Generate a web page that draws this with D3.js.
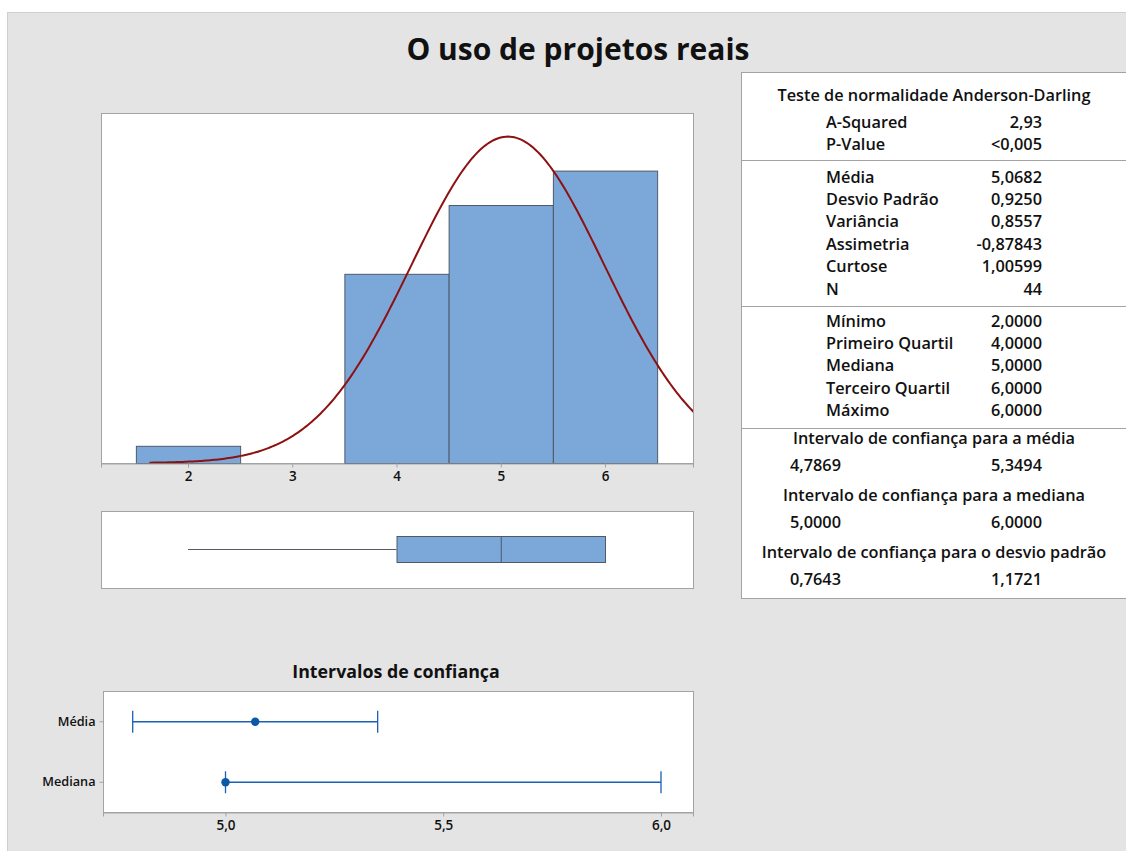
<!DOCTYPE html>
<html>
<head>
<meta charset="utf-8">
<script src="https://cdn.jsdelivr.net/npm/d3@7"></script>
<style>
  body { margin: 0; background: #fff; }
  text { font-family: "Open Sans", "Noto Sans", sans-serif; fill: #111; }
</style>
</head>
<body>
<svg id="chart" width="1126" height="851"></svg>
<script>
// histogram data
const binCenters = [2, 3, 4, 5, 6];
const binCounts = [1, 0, 11, 15, 17];

// summary stats
const sampleMean = 5.0682;
const sampleSd = 0.9250;
const sampleN = 44;
const fiveNum = [2, 4, 5, 6, 6]; // min, q1, median, q3, max

// confidence intervals
const ciNames = ["Média", "Mediana"];
const ciLow = [4.7869, 5.0];
const ciHigh = [5.3494, 6.0];
const ciCenter = [5.0682, 5.0];
const ciTicks = [5.0, 5.5, 6.0];

// table text
const adRows = [["A-Squared", "2,93"], ["P-Value", "<0,005"]];
const momentRows = [["Média", "5,0682"], ["Desvio Padrão", "0,9250"], ["Variância", "0,8557"],
  ["Assimetria", "-0,87843"], ["Curtose", "1,00599"], ["N", "44"]];
const quantRows = [["Mínimo", "2,0000"], ["Primeiro Quartil", "4,0000"], ["Mediana", "5,0000"],
  ["Terceiro Quartil", "6,0000"], ["Máximo", "6,0000"]];
const ciTableRows = [
  ["Intervalo de confiança para a média", "4,7869", "5,3494"],
  ["Intervalo de confiança para a mediana", "5,0000", "6,0000"],
  ["Intervalo de confiança para o desvio padrão", "0,7643", "1,1721"]];

const svg = d3.select("#chart");
const frameColor = "#a3a3a3";
const barFill = "#7ca7d9";
const barStroke = "#4f5968";
const ciBlue = "#1c5fb3";

// gray panel
svg.append("rect").attr("x", 7.5).attr("y", 12.5).attr("width", 1130).attr("height", 850)
  .attr("fill", "#e4e4e4").attr("stroke", "#cfcfcf");

svg.append("text").attr("x", 578).attr("y", 60).attr("text-anchor", "middle")
  .attr("font-size", 30).attr("font-weight", 700).text("O uso de projetos reais");

// ---------- histogram ----------
const hx0 = 101, hx1 = 693, hy0 = 113, hy1 = 463;
const x = d3.scaleLinear().domain([1.1655, 6.844]).range([hx0, hx1]);
const y = d3.scaleLinear().domain([0, 20.35]).range([hy1, hy0]);

svg.append("rect").attr("x", hx0 + 0.5).attr("y", hy0 + 0.5)
  .attr("width", hx1 - hx0).attr("height", hy1 - hy0)
  .attr("fill", "#fff").attr("stroke", frameColor);

svg.append("clipPath").attr("id", "histClip").append("rect")
  .attr("x", hx0).attr("y", hy0).attr("width", hx1 - hx0).attr("height", hy1 - hy0);

svg.append("g").selectAll("rect")
  .data(binCenters)
  .join("rect")
    .attr("x", d => x(d - 0.5) + 0.5)
    .attr("y", (d, i) => y(binCounts[i]) + 0.5)
    .attr("width", d => x(d + 0.5) - x(d - 0.5))
    .attr("height", (d, i) => y(0) - y(binCounts[i]))
    .attr("fill", barFill)
    .attr("stroke", barStroke)
    .attr("stroke-width", 1);

// fitted normal curve
const pdf = v => sampleN / (sampleSd * Math.sqrt(2 * Math.PI)) * Math.exp(-0.5 * ((v - sampleMean) / sampleSd) ** 2);
const curveX = d3.range(1.63, 6.9, 0.02);
svg.append("path")
  .datum(curveX)
  .attr("clip-path", "url(#histClip)")
  .attr("fill", "none")
  .attr("stroke", "#8e1111")
  .attr("stroke-width", 2)
  .attr("d", d3.line().x(d => x(d)).y(d => y(pdf(d))));

const xAxis = svg.append("g").attr("transform", `translate(0,${hy1 + 0.5})`)
  .call(d3.axisBottom(x).tickValues(binCenters).tickSize(4).tickFormat(d3.format("d")));
xAxis.select(".domain").attr("stroke", frameColor);
xAxis.selectAll(".tick line").attr("stroke", frameColor);
xAxis.selectAll(".tick text").attr("font-size", 13.5).attr("font-weight", 600)
  .attr("font-family", "'Open Sans', sans-serif").attr("fill", "#111").attr("dy", "0.8em");

// ---------- box plot ----------
const by0 = 511, by1 = 588, boxTop = 536, boxBot = 562, boxMid = 549;
svg.append("rect").attr("x", hx0 + 0.5).attr("y", by0 + 0.5)
  .attr("width", hx1 - hx0).attr("height", by1 - by0)
  .attr("fill", "#fff").attr("stroke", frameColor);

svg.append("line").attr("x1", x(fiveNum[0])).attr("x2", x(fiveNum[1]))
  .attr("y1", boxMid + 0.5).attr("y2", boxMid + 0.5).attr("stroke", "#555c66");
svg.append("rect").attr("x", x(fiveNum[1]) + 0.5).attr("y", boxTop + 0.5)
  .attr("width", x(fiveNum[3]) - x(fiveNum[1])).attr("height", boxBot - boxTop)
  .attr("fill", barFill).attr("stroke", barStroke);
svg.append("line").attr("x1", x(fiveNum[2]) + 0.5).attr("x2", x(fiveNum[2]) + 0.5)
  .attr("y1", boxTop).attr("y2", boxBot).attr("stroke", barStroke);
if (fiveNum[4] > fiveNum[3]) {
  svg.append("line").attr("x1", x(fiveNum[3])).attr("x2", x(fiveNum[4]))
    .attr("y1", boxMid + 0.5).attr("y2", boxMid + 0.5).attr("stroke", "#555c66");
}

// ---------- confidence intervals ----------
const cx0 = 103, cx1 = 693, cy0 = 691, cy1 = 812;
const cx = d3.scaleLinear().domain([4.7187, 6.0735]).range([cx0, cx1]);
const cy = d3.scalePoint().domain(ciNames).range([cy0, cy1]).padding(0.5);

svg.append("text").attr("x", 396).attr("y", 678).attr("text-anchor", "middle")
  .attr("font-size", 17.8).attr("font-weight", 700).text("Intervalos de confiança");

svg.append("rect").attr("x", cx0 + 0.5).attr("y", cy0 + 0.5)
  .attr("width", cx1 - cx0).attr("height", cy1 - cy0)
  .attr("fill", "#fff").attr("stroke", frameColor);

const ciG = svg.append("g").selectAll("g")
  .data(ciNames)
  .join("g")
    .attr("transform", d => `translate(0,${cy(d) + 0.5})`);
ciG.append("line")
  .attr("x1", (d, i) => cx(ciLow[i])).attr("x2", (d, i) => cx(ciHigh[i]))
  .attr("stroke", ciBlue).attr("stroke-width", 1.3);
ciG.append("line")
  .attr("x1", (d, i) => cx(ciLow[i])).attr("x2", (d, i) => cx(ciLow[i]))
  .attr("y1", -11).attr("y2", 11).attr("stroke", ciBlue).attr("stroke-width", 1.3);
ciG.append("line")
  .attr("x1", (d, i) => cx(ciHigh[i])).attr("x2", (d, i) => cx(ciHigh[i]))
  .attr("y1", -11).attr("y2", 11).attr("stroke", ciBlue).attr("stroke-width", 1.3);
ciG.append("circle")
  .attr("cx", (d, i) => cx(ciCenter[i])).attr("r", 4.2).attr("fill", "#0b57a8");

const ciXAxis = svg.append("g").attr("transform", `translate(0,${cy1 + 0.5})`)
  .call(d3.axisBottom(cx).tickValues(ciTicks).tickSize(4).tickFormat(d => d3.format(".1f")(d).replace(".", ",")));
ciXAxis.select(".domain").attr("stroke", frameColor);
ciXAxis.selectAll(".tick line").attr("stroke", frameColor);
ciXAxis.selectAll(".tick text").attr("font-size", 13.5).attr("font-weight", 600)
  .attr("font-family", "'Open Sans', sans-serif").attr("fill", "#111").attr("dy", "0.8em");

const ciYAxis = svg.append("g").attr("transform", `translate(${cx0 + 0.5},0)`)
  .call(d3.axisLeft(cy).tickSize(4).tickPadding(4));
ciYAxis.select(".domain").remove();
ciYAxis.selectAll(".tick line").attr("stroke", frameColor);
ciYAxis.selectAll(".tick text").attr("font-size", 12.7).attr("font-weight", 600)
  .attr("font-family", "'Open Sans', sans-serif").attr("fill", "#111");

// ---------- stats table ----------
const tx0 = 741, tLabelX = 826, tValX = 1042, tCenter = 934, rowH = 22.4;
const fs = 16.3;
const table = svg.append("g");
table.append("rect").attr("x", tx0 + 0.5).attr("y", 72.5).attr("width", 420).attr("height", 526)
  .attr("fill", "#fff").attr("stroke", frameColor);
[160, 306, 428].forEach(ly => table.append("line")
  .attr("x1", tx0).attr("x2", 1126).attr("y1", ly + 0.5).attr("y2", ly + 0.5).attr("stroke", frameColor));

function txt(xp, yp, s, anchor) {
  return table.append("text").attr("x", xp).attr("y", yp).attr("text-anchor", anchor || "start")
    .attr("font-size", fs).attr("font-weight", 600).text(s);
}
txt(tCenter, 100.5, "Teste de normalidade Anderson-Darling", "middle");
function rows(data, startY) {
  data.forEach((r, i) => {
    txt(tLabelX, startY + i * rowH, r[0]);
    txt(tValX, startY + i * rowH, r[1], "end");
  });
}
rows(adRows, 128);
rows(momentRows, 182.5);
rows(quantRows, 326.5);
ciTableRows.forEach((r, i) => {
  const yy = 443.5 + i * 57;
  txt(tCenter, yy, r[0], "middle");
  txt(790, yy + 27.5, r[1]);
  txt(tValX, yy + 27.5, r[2], "end");
});
</script>
</body>
</html>
